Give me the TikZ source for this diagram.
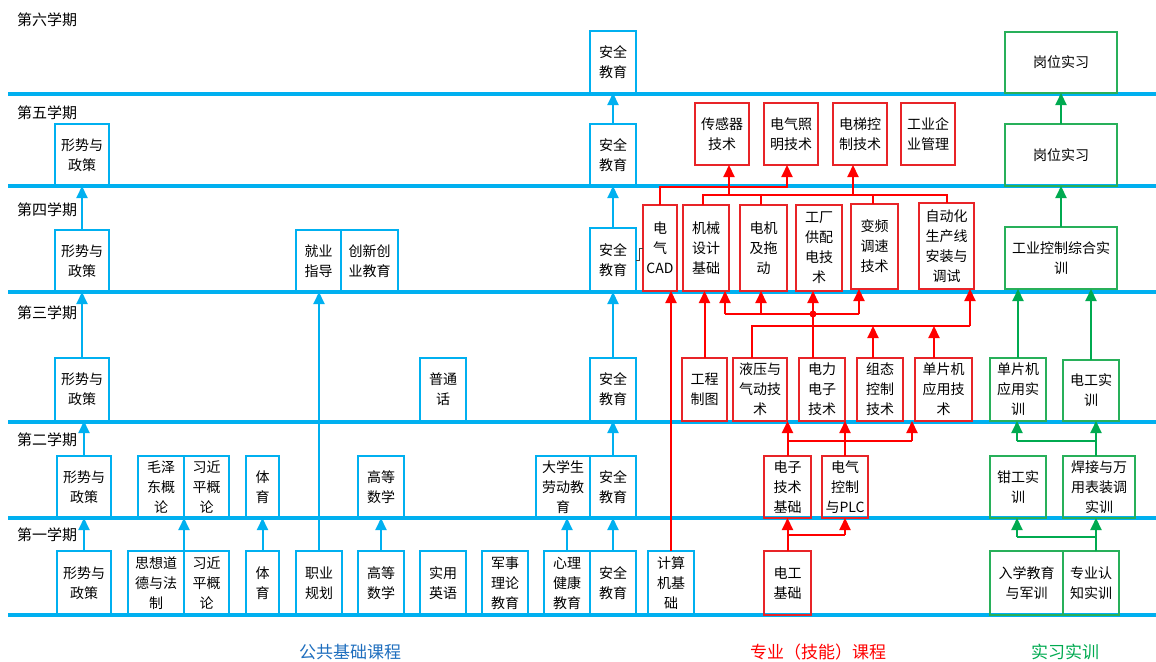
\documentclass[tikz,border=0pt]{standalone}
\usepackage{fontspec}
\setmainfont{Noto Sans CJK SC}
\usetikzlibrary{arrows.meta}
\definecolor{lb}{RGB}{0,176,240}
\definecolor{rb}{RGB}{232,36,40}
\definecolor{rl}{RGB}{255,0,0}
\definecolor{gb}{RGB}{40,176,90}
\definecolor{gl}{RGB}{0,170,80}
\definecolor{tb}{RGB}{30,110,190}
\newcommand\cbox[7]{\pgfmathsetmacro\bw{#5-#3}\pgfmathsetmacro\bh{#6-#4}%
  \node[#1, minimum width=\bw pt, minimum height=\bh pt] (#2) at ({(#3+#5)/2},{(#4+#6)/2}) {#7};}
\begin{document}
\begin{tikzpicture}[x=1pt,y=-1pt,
  box/.style={draw, line width=1.5pt, inner sep=0pt, outer sep=0pt, align=center, font=\fontsize{14}{20}\selectfont, text=black},
  bbox/.style={box, draw=lb},
  rbox/.style={box, draw=rb},
  gbox/.style={box, draw=gb},
  semline/.style={draw=lb, line width=3.5pt},
  semlab/.style={anchor=west, inner sep=0pt, font=\fontsize{15}{18}\selectfont, text=black},
  tip/.style={-{Triangle[length=12pt,width=11pt]}},
  barr/.style={draw=lb, line width=2pt, tip},
  rline/.style={draw=rl, line width=2pt},
  rarr/.style={rline, tip},
  gline/.style={draw=gl, line width=2pt},
  garr/.style={gline, tip},
  foot/.style={inner sep=0pt, font=\fontsize{17}{20}\selectfont}]
\useasboundingbox (0,0) rectangle (1156,661);
% semester lines
\foreach \yy in {94,186,292,422,518,615} \draw[semline] (8,\yy) -- (1156,\yy);
% semester labels
\node[semlab] (s6) at (17,20) {第六学期};
\node[semlab] (s5) at (17,113) {第五学期};
\node[semlab] (s4) at (17,210) {第四学期};
\node[semlab] (s3) at (17,313) {第三学期};
\node[semlab] (s2) at (17,440) {第二学期};
\node[semlab] (s1) at (17,535) {第一学期};
% S6
\cbox{bbox}{aq6}{590}{31}{636}{93}{安全\\教育}
\cbox{gbox}{gw6}{1005}{32}{1117}{93}{岗位实习}
% S5
\cbox{bbox}{xs5}{55}{124}{109}{186}{形势与\\政策}
\cbox{bbox}{aq5}{590}{124}{636}{186}{安全\\教育}
\cbox{rbox}{cgq}{695}{103}{749}{165}{传感器\\技术}
\cbox{rbox}{dqzm}{764}{103}{818}{165}{电气照\\明技术}
\cbox{rbox}{dtkz}{833}{103}{887}{165}{电梯控\\制技术}
\cbox{rbox}{gyqy}{901}{103}{955}{165}{工业企\\业管理}
\cbox{gbox}{gw5}{1005}{124}{1117}{186}{岗位实习}
% S4
\cbox{bbox}{xs4}{55}{230}{109}{292}{形势与\\政策}
\cbox{bbox}{jy}{296}{230}{341}{292}{就业\\指导}
\cbox{bbox}{cx}{341}{230}{398}{292}{创新创\\业教育}
\cbox{bbox}{aq4}{590}{228}{636}{292}{安全\\教育}
\cbox{rbox}{cad}{643}{205}{677}{291}{电\\气\\CAD}
\cbox{rbox}{jx}{683}{205}{729}{291}{机械\\设计\\基础}
\cbox{rbox}{dj}{740}{205}{787}{291}{电机\\及拖\\动}
\cbox{rbox}{gc}{796}{205}{842}{291}{工厂\\供配\\电技\\术}
\cbox{rbox}{bp}{851}{204}{898}{289}{变频\\调速\\技术}
\cbox{rbox}{zdh}{919}{203}{974}{289}{自动化\\生产线\\安装与\\调试}
\cbox{gbox}{gk}{1005}{227}{1117}{289}{工业控制综合实\\训}
% S3
\cbox{bbox}{xs3}{55}{358}{109}{421}{形势与\\政策}
\cbox{bbox}{pth}{420}{358}{466}{421}{普通\\话}
\cbox{bbox}{aq3}{590}{358}{636}{421}{安全\\教育}
\cbox{rbox}{gczt}{682}{358}{727}{421}{工程\\制图}
\cbox{rbox}{yy}{733}{358}{787}{421}{液压与\\气动技\\术}
\cbox{rbox}{dldz}{799}{358}{845}{421}{电力\\电子\\技术}
\cbox{rbox}{zt}{857}{358}{903}{421}{组态\\控制\\技术}
\cbox{rbox}{dpj}{915}{358}{972}{421}{单片机\\应用技\\术}
\cbox{gbox}{dpsx}{990}{358}{1046}{421}{单片机\\应用实\\训}
\cbox{gbox}{dgsx}{1063}{360}{1119}{421}{电工实\\训}
% S2
\cbox{bbox}{xs2}{57}{456}{111}{518}{形势与\\政策}
\cbox{bbox}{mz}{138}{456}{184}{518}{毛泽\\东概\\论}
\cbox{bbox}{xj2}{184}{456}{229}{518}{习近\\平概\\论}
\cbox{bbox}{ty2}{246}{456}{279}{518}{体\\育}
\cbox{bbox}{gs2}{358}{456}{404}{518}{高等\\数学}
\cbox{bbox}{ld}{536}{456}{590}{518}{大学生\\劳动教\\育}
\cbox{bbox}{aq2}{590}{456}{636}{518}{安全\\教育}
\cbox{rbox}{dzjs}{764}{456}{811}{518}{电子\\技术\\基础}
\cbox{rbox}{plc}{822}{456}{868}{518}{电气\\控制\\与PLC}
\cbox{gbox}{qg}{990}{456}{1046}{518}{钳工实\\训}
\cbox{gbox}{hj}{1063}{456}{1135}{518}{焊接与万\\用表装调\\实训}
% S1
\cbox{bbox}{xs1}{57}{551}{111}{615}{形势与\\政策}
\cbox{bbox}{sx}{128}{551}{184}{615}{思想道\\德与法\\制}
\cbox{bbox}{xj1}{184}{551}{229}{615}{习近\\平概\\论}
\cbox{bbox}{ty1}{246}{551}{279}{615}{体\\育}
\cbox{bbox}{zy}{296}{551}{342}{615}{职业\\规划}
\cbox{bbox}{gs1}{358}{551}{404}{615}{高等\\数学}
\cbox{bbox}{yy1}{420}{551}{466}{615}{实用\\英语}
\cbox{bbox}{js}{482}{551}{528}{615}{军事\\理论\\教育}
\cbox{bbox}{xl}{544}{551}{590}{615}{心理\\健康\\教育}
\cbox{bbox}{aq1}{590}{551}{636}{615}{安全\\教育}
\cbox{bbox}{jsj}{648}{551}{694}{615}{计算\\机基\\础}
\cbox{rbox}{dg}{764}{551}{811}{615}{电工\\基础}
\cbox{gbox}{rx}{990}{551}{1063}{615}{入学教育\\与军训}
\cbox{gbox}{zyrz}{1063}{551}{1119}{615}{专业认\\知实训}
% footer
\node[foot, text=tb] (f1) at (350,652) {公共基础课程};
\node[foot, text=rl] (f2) at (818,652) {专业（技能）课程};
\node[foot, text=gl] (f3) at (1065,652) {实习实训};
% blue connectors
\draw[barr] (xs1.north) -- (xs1.north |- xs2.south);
\draw[barr] (xs2.north) -- (xs2.north |- xs3.south);
\draw[barr] (xs3.north) -- (xs3.north |- xs4.south);
\draw[barr] (xs4.north) -- (xs4.north |- xs5.south);
\draw[barr] (sx.north east) -- (mz.south east);
\draw[barr] (ty1.north) -- (ty2.south);
\draw[barr] (zy.north) -- (zy.north |- jy.south);
\draw[barr] (gs1.north) -- (gs2.south);
\draw[barr] (xl.north) -- (xl.north |- ld.south);
\draw[barr] (aq1.north) -- (aq2.south);
\draw[barr] (aq2.north) -- (aq3.south);
\draw[barr] (aq3.north) -- (aq4.south);
\draw[barr] (aq4.north) -- (aq5.south);
\draw[barr] (aq5.north) -- (aq6.south);
\draw[black!75, line width=0.7pt] (aq4.east) -- ++(3,0) |- (cad.west);
% red: S1 -> S2
\coordinate (g1) at (845,535);
\draw[rarr] (dg.north) -- (dg.north |- dzjs.south);
\draw[rline] (dg.north |- g1) -- (g1);
\draw[rarr] (g1) -- (g1 |- plc.south);
% red: S2 -> S3
\coordinate (f0) at (788,441);
\coordinate (f1) at (912,441);
\draw[rarr] (dzjs.north) -- (dzjs.north |- yy.south);
\draw[rline] (f0) -- (f1);
\draw[rarr] (f1) -- (f1 |- dpj.south);
\draw[rarr] (plc.north) -- (plc.north |- zt.south);
% red: S3 -> S4
\draw[rarr] (jsj.north) -- (jsj.north |- cad.south);
\draw[rarr] (gczt.north) -- (gczt.north |- jx.south);
\coordinate (t1) at (813,314);
\coordinate (a1) at (725,314);
\coordinate (a2) at (761,314);
\coordinate (a3) at (859,314);
\draw[rline] (a1) -- (a3);
\draw[rarr] (a1) -- (a1 |- jx.south);
\draw[rarr] (a2) -- (a2 |- dj.south);
\draw[rarr] (a3) -- (a3 |- bp.south);
\draw[rarr] (dldz.north -| t1) -- (t1 |- gc.south);
\fill[rl] (t1) circle (3.5pt);
\coordinate (b0) at (752,326);
\coordinate (b1) at (873,326);
\coordinate (b2) at (934,326);
\coordinate (b3) at (970,326);
\draw[rline] (yy.north -| b0) -- (b0) -- (b3);
\draw[rarr] (b3) -- (b3 |- zdh.south);
\draw[rarr] (zt.north -| b1) -- (b1);
\draw[rarr] (dpj.north -| b2) -- (b2);
% red: S4 -> S5
\coordinate (c0) at (660,187);
\coordinate (c1) at (787,187);
\draw[rarr] (cad.north) -- (c0) -- (c1) -- (c1 |- dqzm.south);
\coordinate (d0) at (703,195);
\coordinate (d1) at (761,195);
\coordinate (d3) at (873,195);
\coordinate (d4) at (947,195);
\coordinate (e1) at (729,195);
\coordinate (e2) at (853,195);
\draw[rline] (jx.north -| d0) -- (d0) -- (d4) -- (zdh.north -| d4);
\draw[rline] (d1) -- (d1 |- dj.north);
\draw[rline] (d3) -- (d3 |- bp.north);
\draw[rarr] (e1) -- (e1 |- cgq.south);
\draw[rarr] (e2) -- (e2 |- dtkz.south);
% green
\coordinate (h0) at (1096,537);
\coordinate (h1) at (1017,537);
\draw[garr] (zyrz.north -| h0) -- (h0 |- hj.south);
\draw[gline] (h0) -- (h1);
\draw[garr] (h1) -- (h1 |- qg.south);
\coordinate (i0) at (1096,441);
\coordinate (i1) at (1017,441);
\draw[garr] (hj.north -| i0) -- (i0 |- dgsx.south);
\draw[gline] (i0) -- (i1);
\draw[garr] (i1) -- (i1 |- dpsx.south);
\draw[garr] (dpsx.north) -- (dpsx.north |- gk.south);
\draw[garr] (dgsx.north) -- (dgsx.north |- gk.south);
\draw[garr] (gk.north) -- (gw5.south);
\draw[garr] (gw5.north) -- (gw6.south);
\end{tikzpicture}
\end{document}
